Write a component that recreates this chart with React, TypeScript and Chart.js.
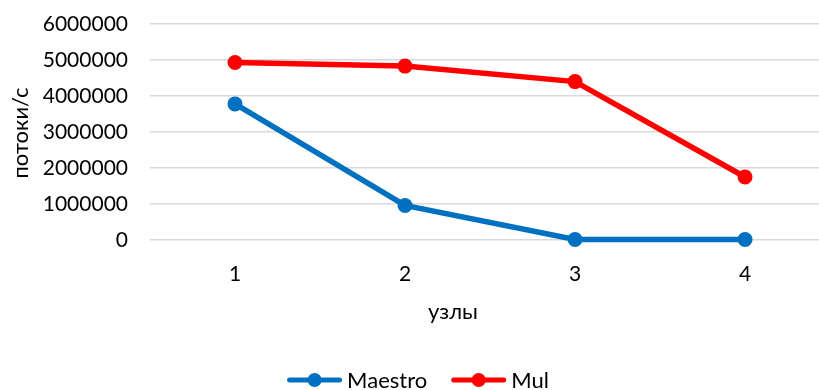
import React, { useEffect, useRef } from "react";
import { Chart, registerables } from "chart.js";

Chart.register(...registerables);

// Throughput (flows per second) by node count
const nodeCounts = [1, 2, 3, 4];
const maestroValues = [3780000, 960000, 15000, 15000];
const mulValues = [4930000, 4830000, 4400000, 1750000];
const seriesNames = ["Maestro", "Mul"];
const seriesColors = ["#0070C0", "#FF0000"];
const yTickValues = [0, 1000000, 2000000, 3000000, 4000000, 5000000, 6000000];
const yAxisTitle = "потоки/с";
const xAxisTitle = "узлы";

const FONT_FAMILY = "Lato, 'Open Sans', sans-serif";
const TEXT_COLOR = "#000000";
const GRID_COLOR = "#d9d9d9";
const TICK_FONT_SIZE = 21;
const TITLE_FONT_SIZE = 22;

// Axis titles and a line-with-dot legend drawn over the finished chart
const overlayText = {
  id: "overlayText",
  afterDraw(chart: Chart) {
    const ctx = chart.ctx;
    ctx.save();
    ctx.fillStyle = TEXT_COLOR;
    ctx.font = `${TITLE_FONT_SIZE}px ${FONT_FAMILY}`;
    ctx.textAlign = "center";
    ctx.textBaseline = "middle";
    ctx.fillText(xAxisTitle, 453, 312);
    ctx.save();
    ctx.translate(21, 133);
    ctx.rotate(-Math.PI / 2);
    ctx.fillText(yAxisTitle, 0, 0);
    ctx.restore();

    // legend
    const markerW = 55;
    const textGap = 5;
    const itemGap = 24;
    const legendY = 380;
    const widths = seriesNames.map((n) => ctx.measureText(n).width);
    const total =
      widths.reduce((a, w) => a + markerW + textGap + w, 0) +
      itemGap * (seriesNames.length - 1);
    let x = 418 - total / 2;
    ctx.textAlign = "left";
    seriesNames.forEach((name, i) => {
      const color = seriesColors[i];
      ctx.strokeStyle = color;
      ctx.fillStyle = color;
      ctx.lineWidth = 5;
      ctx.lineCap = "round";
      ctx.beginPath();
      ctx.moveTo(x + 2.5, legendY);
      ctx.lineTo(x + markerW - 2.5, legendY);
      ctx.stroke();
      ctx.beginPath();
      ctx.arc(x + markerW / 2, legendY, 7, 0, Math.PI * 2);
      ctx.fill();
      ctx.fillStyle = TEXT_COLOR;
      ctx.fillText(name, x + markerW + textGap, legendY + 1);
      x += markerW + textGap + widths[i] + itemGap;
    });
    ctx.restore();
  },
};

export default function App() {
  const canvasRef = useRef<HTMLCanvasElement | null>(null);

  useEffect(() => {
    document.body.style.margin = "0";
    const canvas = canvasRef.current;
    if (!canvas) return;

    const valuesBySeries = [maestroValues, mulValues];

    const chart = new Chart(canvas, {
      type: "line",
      data: {
        datasets: seriesNames.map((name, i) => ({
          label: name,
          data: nodeCounts.map((n, j) => ({ x: n, y: valuesBySeries[i][j] })),
          borderColor: seriesColors[i],
          backgroundColor: seriesColors[i],
          borderWidth: 5.5,
          pointRadius: 7.5,
          pointHoverRadius: 7.5,
          pointBorderWidth: 0,
          tension: 0,
          fill: false,
          clip: false,
        })),
      },
      plugins: [overlayText],
      options: {
        responsive: false,
        animation: false,
        maintainAspectRatio: false,
        layout: {
          autoPadding: false,
          padding: { top: 24, right: 0, bottom: 0, left: 0 },
        },
        plugins: {
          tooltip: { enabled: false },
          legend: { display: false },
        },
        scales: {
          x: {
            type: "linear",
            min: 0.5,
            max: 4.435,
            afterBuildTicks: (scale: any) => {
              scale.ticks = nodeCounts.map((v) => ({ value: v }));
            },
            afterFit: (scale: any) => {
              scale.height = 150;
              scale.paddingLeft = 0;
              scale.paddingRight = 0;
            },
            grid: { display: false, drawTicks: false },
            border: { display: false },
            ticks: {
              padding: 22,
              color: TEXT_COLOR,
              font: { family: FONT_FAMILY, size: TICK_FONT_SIZE },
              maxRotation: 0,
              autoSkip: false,
            },
          },
          y: {
            min: 0,
            max: 6000000,
            afterBuildTicks: (scale: any) => {
              scale.ticks = yTickValues.map((v) => ({ value: v }));
            },
            afterFit: (scale: any) => {
              scale.width = 150;
              scale.paddingTop = 0;
              scale.paddingBottom = 0;
            },
            grid: { color: GRID_COLOR, lineWidth: 1.5, drawTicks: false },
            border: { display: false },
            ticks: {
              padding: 22,
              color: TEXT_COLOR,
              font: { family: FONT_FAMILY, size: TICK_FONT_SIZE },
              callback: (v: any) => String(v),
            },
          },
        },
      },
    });

    return () => chart.destroy();
  }, []);

  return (
    <div style={{ width: 819, height: 390 }}>
      <canvas
        ref={canvasRef}
        width={819}
        height={390}
        style={{ display: "block" }}
      />
    </div>
  );
}
